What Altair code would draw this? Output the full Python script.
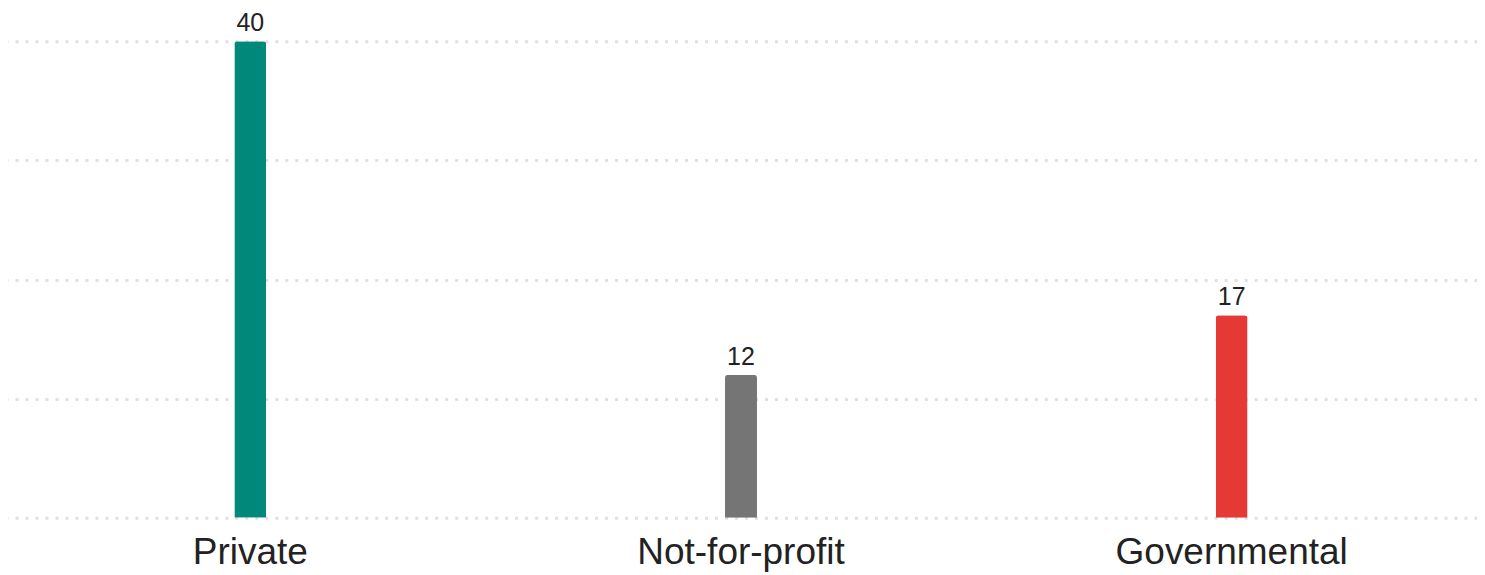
import altair as alt
import pandas as pd

categories = ["Private", "Not-for-profit", "Governmental"]
values = [40, 12, 17]
colors = ["#00897b", "#757575", "#e53935"]

df = pd.DataFrame({"cat": categories, "val": values, "color": colors})

x = alt.X("cat:N", sort=categories, title=None,
          scale=alt.Scale(paddingInner=0, paddingOuter=0),
          axis=alt.Axis(labelAngle=0, labelFontSize=37, labelColor="#222222",
                        labelFont="Liberation Sans", labelPadding=17, labelLimit=1000,
                        domain=False, ticks=False, grid=False))
y = alt.Y("val:Q", title=None, scale=alt.Scale(domain=[0, 40], nice=False),
          axis=alt.Axis(values=[0, 10, 20, 30, 40], labels=False, domain=False,
                        ticks=False, grid=True, gridColor="#e0e0e0",
                        gridOpacity=1, gridWidth=3, gridDash=[3, 7]))

bars = alt.Chart(df).mark_bar(size=32, cornerRadiusTopLeft=3, cornerRadiusTopRight=3).encode(
    x=x, y=y, color=alt.Color("color:N", scale=None)
)
labels = alt.Chart(df).mark_text(baseline="alphabetic", dy=-10, fontSize=25,
                                 font="Liberation Sans", color="#222222").encode(
    x=alt.X("cat:N", sort=categories), y="val:Q", text="val:Q"
)

chart = (bars + labels).properties(
    width=1473, height=477,
    autosize=alt.AutoSizeParams(type="none"),
    padding={"left": -3, "top": 33, "right": 0, "bottom": 60},
).configure_view(stroke=None)

chart.save("out.html", embed_options={"renderer": "svg", "actions": False})
